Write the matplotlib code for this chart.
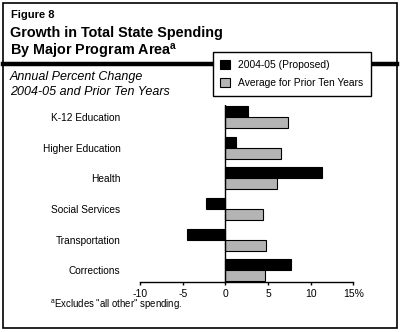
import matplotlib
matplotlib.use('Agg')
import matplotlib.pyplot as plt
from matplotlib.patches import Rectangle
import numpy as np

plt.rcParams['font.family'] = ['Liberation Sans', 'DejaVu Sans']

categories = ['K-12 Education', 'Higher Education', 'Health',
              'Social Services', 'Transportation', 'Corrections']
proposed = [2.6, 1.2, 11.3, -2.3, -4.5, 7.7]
prior_avg = [7.4, 6.5, 6.1, 4.4, 4.8, 4.6]
series_labels = ['2004-05 (Proposed)', 'Average for Prior Ten Years']
xticks = [-10, -5, 0, 5, 10, 15]
xticklabels = ['-10', '-5', '0', '5', '10', '15%']

W, H = 401, 332
fig = plt.figure(figsize=(W / 100, H / 100), dpi=100)


def fx(px):
    return px / W


def fy(py):
    return 1 - py / H


# outer frame
fig.patches.append(Rectangle((fx(3), fy(328)), fx(394), 325 / H, transform=fig.transFigure,
                             fill=False, edgecolor='black', linewidth=1.2))
# thick rule under the title
fig.add_artist(plt.Line2D([fx(3), fx(397)], [fy(63.5), fy(63.5)], transform=fig.transFigure,
                          color='black', linewidth=3.2))

fig.text(fx(11), fy(15), 'Figure 8', fontsize=8, fontweight='bold', va='center')
fig.text(fx(10), fy(33), 'Growth in Total State Spending', fontsize=10.4, fontweight='bold',
         va='center')
fig.text(fx(10), fy(51), r'By Major Program Area$^{\mathregular{a}}$', fontsize=10.4,
         fontweight='bold', va='center')
fig.text(fx(10), fy(77), 'Annual Percent Change', fontsize=9, style='italic', va='center')
fig.text(fx(10), fy(92), '2004-05 and Prior Ten Years', fontsize=9, style='italic', va='center')
fig.text(fx(50), fy(305), r'$^{\mathregular{a}}$Excludes "all other" spending.', fontsize=6.9,
         va='center')

ax = fig.add_axes([fx(140), fy(282.3), fx(353.3) - fx(140), (282.3 - 105) / H])
y = np.arange(len(categories))
h = 0.36
b1 = ax.barh(y - h / 2, proposed, height=h, color='black', edgecolor='black', linewidth=0.8,
             label=series_labels[0])
b2 = ax.barh(y + h / 2, prior_avg, height=h, color='#b4b4b4', edgecolor='black', linewidth=0.8,
             label=series_labels[1])
ax.axvline(0, color='black', linewidth=1)
ax.set_xlim(-10, 15)
ax.set_ylim(len(categories) - 1 + 0.39, -0.39)
ax.set_yticks(y)
ax.set_yticklabels(categories, fontsize=7.3)
ax.set_xticks(xticks)
ax.set_xticklabels(xticklabels, fontsize=7.5)
for s in ['top', 'right', 'left']:
    ax.spines[s].set_visible(False)
ax.spines['bottom'].set_linewidth(1)
ax.tick_params(axis='y', length=0, pad=14)
ax.tick_params(axis='x', direction='out', length=2.5, width=1, pad=2)

leg = fig.legend(handles=[b1, b2], labels=series_labels, loc='upper left',
                 bbox_to_anchor=(fx(212.5), fy(52)), fontsize=7.4, frameon=True, fancybox=False,
                 edgecolor='black', framealpha=1, handlelength=1.0, handleheight=1.0,
                 borderpad=0.75, labelspacing=0.8, handletextpad=0.75, borderaxespad=0)
leg.get_frame().set_linewidth(1)

fig.savefig('out.png', dpi=100)
